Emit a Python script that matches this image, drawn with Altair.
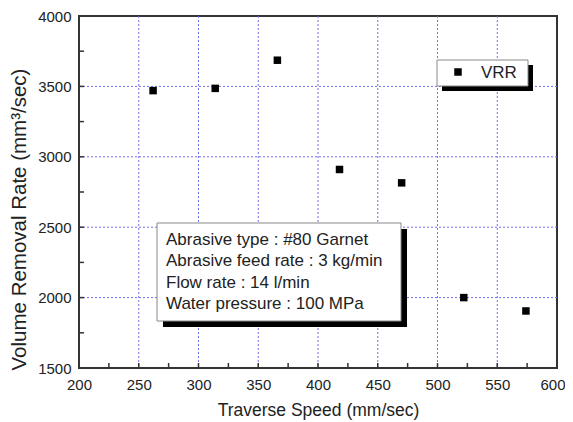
import altair as alt
import pandas as pd

# ---- data ----
speed = [262, 314, 366, 418, 470, 522, 574]
vrr = [3470, 3486, 3686, 2910, 2815, 2000, 1905]

x_ticks_major = [200, 250, 300, 350, 400, 450, 500, 550, 600]
y_ticks_major = [1500, 2000, 2500, 3000, 3500, 4000]
x_ticks_all = [225, 250, 275, 300, 325, 350, 375, 400, 425, 450, 475, 500, 525, 550, 575]
y_ticks_all = [1750, 2000, 2250, 2500, 2750, 3000, 3250, 3500, 3750]
x_grid = [250, 300, 350, 400, 450, 500, 550]
y_grid = [2000, 2500, 3000, 3500]

legend_label = "VRR"
note_lines = [
    "Abrasive type : #80 Garnet",
    "Abrasive feed rate : 3 kg/min",
    "Flow rate : 14 l/min",
    "Water pressure : 100 MPa",
]

W, H = 478, 352
FONT = "Liberation Sans"
GRID = "#7070f0"

df = pd.DataFrame({"speed": speed, "vrr": vrr})
one = pd.DataFrame({"a": [0]})

xs = alt.Scale(domain=[200, 600], nice=False)
ys = alt.Scale(domain=[1500, 4000], nice=False)

x_axis = alt.Axis(values=x_ticks_major, tickSize=0, grid=False, domain=False,
                  format="d", labelFlush=False,
                  labelOffset={"condition": {"test": "datum.value >= 600", "value": -4.5}, "value": 0},
                  labelFont=FONT, labelFontSize=15, labelColor="#222",
                  labelPadding=9, title="Traverse Speed (mm/sec)",
                  titleFont=FONT, titleFontSize=17.5, titleFontWeight="normal",
                  titleColor="#222", titlePadding=9)
y_axis = alt.Axis(values=y_ticks_major, tickSize=0, grid=False, domain=False,
                  format="d", labelFlush=False,
                  labelFont=FONT, labelFontSize=15, labelColor="#222",
                  labelPadding=8, title="Volume Removal Rate (mm³/sec)",
                  titleFont=FONT, titleFontSize=20.5, titleFontWeight="normal",
                  titleColor="#222", titlePadding=8, titleY=203)

points = alt.Chart(df).mark_square(size=56, color="black", opacity=1).encode(
    x=alt.X("speed:Q", scale=xs, axis=x_axis),
    y=alt.Y("vrr:Q", scale=ys, axis=y_axis),
)

vgrid = alt.Chart(pd.DataFrame({"g": x_grid})).mark_rule(
    color=GRID, strokeWidth=1, strokeDash=[2, 2]).encode(
    x=alt.X("g:Q", scale=xs), y=alt.value(0), y2=alt.value(H))
hgrid = alt.Chart(pd.DataFrame({"g": y_grid})).mark_rule(
    color=GRID, strokeWidth=1, strokeDash=[2, 2]).encode(
    y=alt.Y("g:Q", scale=ys), x=alt.value(0), x2=alt.value(W))

xt = alt.Chart(pd.DataFrame({"t": x_ticks_all})).mark_rule(
    color="#333", strokeWidth=1.5).encode(
    x=alt.X("t:Q", scale=xs), y=alt.value(H), y2=alt.value(H - 5))
yt = alt.Chart(pd.DataFrame({"t": y_ticks_all})).mark_rule(
    color="#333", strokeWidth=1.5).encode(
    y=alt.Y("t:Q", scale=ys), x=alt.value(0), x2=alt.value(5))

# note box
note_shadow = alt.Chart(one).mark_rect(color="black").encode(
    x=alt.value(84), x2=alt.value(328), y=alt.value(213), y2=alt.value(311))
note_box = alt.Chart(one).mark_rect(fill="white", stroke="#888", strokeWidth=1).encode(
    x=alt.value(78), x2=alt.value(322), y=alt.value(207), y2=alt.value(305))
note_text = alt.Chart(one).mark_text(
    align="left", baseline="middle", font=FONT, fontSize=17, color="#222",
    lineBreak="\n", lineHeight=21.3).encode(
    x=alt.value(87), y=alt.value(224), text=alt.value("\n".join(note_lines)))

# legend box
leg_shadow = alt.Chart(one).mark_rect(color="black").encode(
    x=alt.value(363), x2=alt.value(454), y=alt.value(49), y2=alt.value(75))
leg_box = alt.Chart(one).mark_rect(fill="white", stroke="#888", strokeWidth=1).encode(
    x=alt.value(358), x2=alt.value(449), y=alt.value(44), y2=alt.value(70))
leg_sym = alt.Chart(one).mark_square(size=56, color="black", opacity=1).encode(
    x=alt.value(379), y=alt.value(56))
leg_text = alt.Chart(one).mark_text(
    align="left", baseline="middle", font=FONT, fontSize=17, color="#222").encode(
    x=alt.value(402), y=alt.value(57), text=alt.value(legend_label))

chart = alt.layer(
    vgrid, hgrid, points, note_shadow, note_box, note_text,
    leg_shadow, leg_box, leg_sym, leg_text, xt, yt,
).properties(
    width=W, height=H,
    autosize=alt.AutoSizeParams(type="none"),
    padding={"left": 71, "top": 8, "right": 8, "bottom": 52},
).configure_view(
    stroke="#333", strokeWidth=2
)

chart.save("out.html", embed_options={"renderer": "svg", "actions": False})
